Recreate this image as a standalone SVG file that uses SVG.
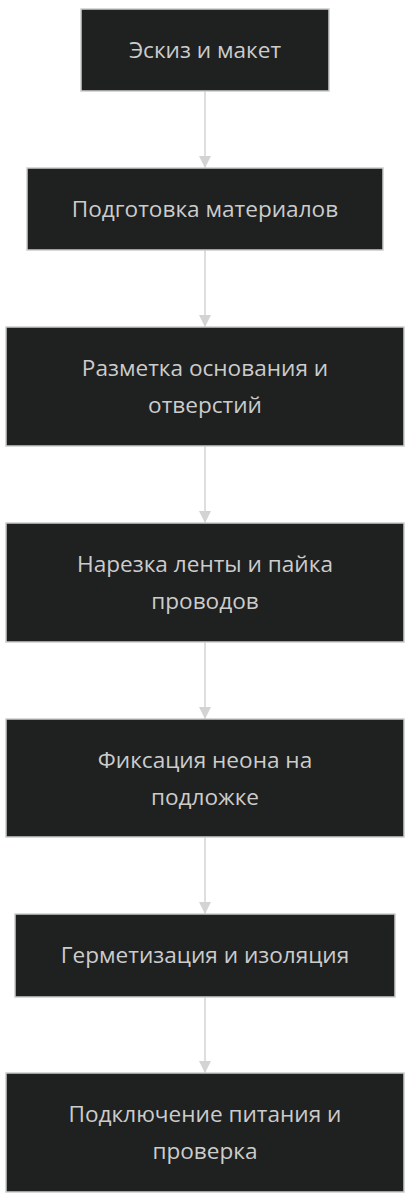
<svg xmlns="http://www.w3.org/2000/svg" width="415" height="1200" viewBox="0 0 415 1200">
<style>
.node rect{fill:#1f2020;stroke:#cccccc;stroke-width:1.5}
.node text{fill:#cccccc;font-family:"Open Sans","DejaVu Sans",sans-serif;font-size:22.6px;text-anchor:middle;dominant-baseline:central}
.edge{stroke:#d3d3d3;stroke-width:1.5;fill:none}
</style>
<defs>
<marker id="arr" markerWidth="12" markerHeight="12" refX="12" refY="6" orient="auto" markerUnits="userSpaceOnUse">
<path d="M0,0 L12,6 L0,12 z" fill="#d3d3d3"/>
</marker>
</defs>
<rect width="415" height="1200" fill="#ffffff"/>
<g id="connectors">
<path class="edge" d="M205,91 L205,168" marker-end="url(#arr)"/>
<path class="edge" d="M205,250 L205,327" marker-end="url(#arr)"/>
<path class="edge" d="M205,446 L205,523" marker-end="url(#arr)"/>
<path class="edge" d="M205,642 L205,719" marker-end="url(#arr)"/>
<path class="edge" d="M205,837 L205,914" marker-end="url(#arr)"/>
<path class="edge" d="M205,997 L205,1073" marker-end="url(#arr)"/>
</g>
<g id="n1" class="node"><rect x="81" y="9" width="248" height="82"/><text x="205" y="49">Эскиз и макет</text></g>
<g id="n2" class="node"><rect x="27" y="168" width="356" height="82"/><text x="205" y="208">Подготовка материалов</text></g>
<g id="n3" class="node"><rect x="6" y="327" width="398" height="119"/><text x="205" y="367">Разметка основания и</text><text x="205" y="404">отверстий</text></g>
<g id="n4" class="node"><rect x="6" y="523" width="398" height="119"/><text x="205" y="563">Нарезка ленты и пайка</text><text x="205" y="600">проводов</text></g>
<g id="n5" class="node"><rect x="6" y="719" width="398" height="118"/><text x="205" y="759">Фиксация неона на</text><text x="205" y="796">подложке</text></g>
<g id="n6" class="node"><rect x="15" y="914" width="380" height="83"/><text x="205" y="954">Герметизация и изоляция</text></g>
<g id="n7" class="node"><rect x="6" y="1073" width="398" height="119"/><text x="205" y="1113">Подключение питания и</text><text x="205" y="1150">проверка</text></g>
</svg>
